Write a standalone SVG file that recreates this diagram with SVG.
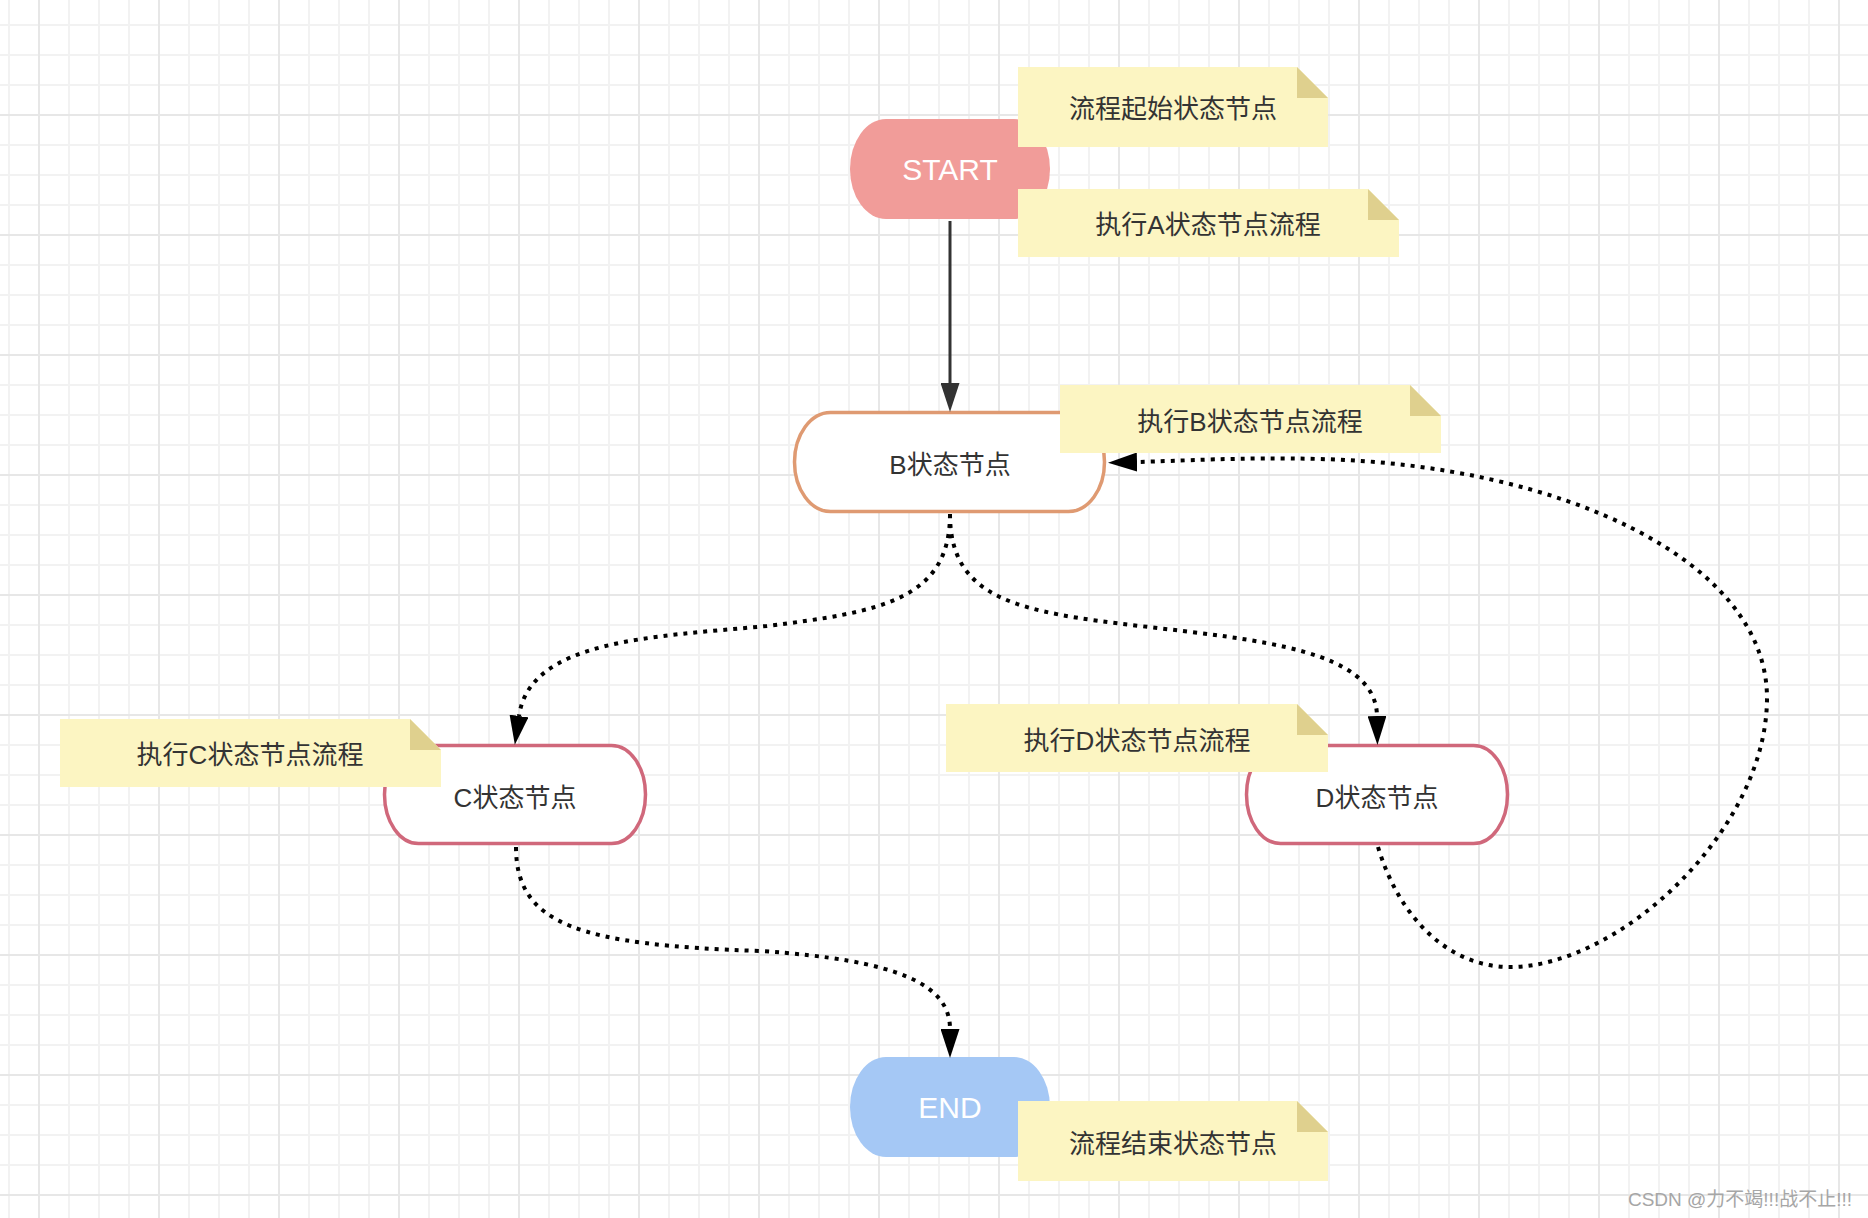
<svg xmlns="http://www.w3.org/2000/svg" width="1868" height="1218" viewBox="0 0 1868 1218">
  <defs>
    <pattern id="grid" patternUnits="userSpaceOnUse" x="24" y="100" width="120" height="120">
      <g stroke="#f2f2f2" stroke-width="2">
        <line x1="45" y1="0" x2="45" y2="120"/>
        <line x1="75" y1="0" x2="75" y2="120"/>
        <line x1="105" y1="0" x2="105" y2="120"/>
        <line x1="0" y1="45" x2="120" y2="45"/>
        <line x1="0" y1="75" x2="120" y2="75"/>
        <line x1="0" y1="105" x2="120" y2="105"/>
      </g>
      <g stroke="#e7e7e7" stroke-width="2">
        <line x1="15" y1="0" x2="15" y2="120"/>
        <line x1="0" y1="15" x2="120" y2="15"/>
      </g>
    </pattern>
    <marker id="arrBlack" markerUnits="userSpaceOnUse" viewBox="0 0 29 19" markerWidth="29" markerHeight="19" refX="0" refY="9.5" orient="auto">
      <path d="M0,0 L29,9.5 L0,19 Z" fill="#000"/>
    </marker>
    <marker id="arrDark" markerUnits="userSpaceOnUse" viewBox="0 0 29 19" markerWidth="29" markerHeight="19" refX="0" refY="9.5" orient="auto">
      <path d="M0,0 L29,9.5 L0,19 Z" fill="#333"/>
    </marker>
  </defs>
  <style>
    .txt { font-family: 'Liberation Sans', 'Noto Sans CJK SC', sans-serif; fill: #333; text-anchor: middle; }
    .term { font-family: 'Liberation Sans', 'Noto Sans CJK SC', sans-serif; fill: #fff; text-anchor: middle; font-size: 30px; }
    .ntxt { font-size: 26px; }
    .note { fill: #FCF5C2; }
    .fold { fill: #DFD08E; }
    .state { fill: #fff; stroke-width: 3.5; }
    .dot { fill: none; stroke: #000; stroke-width: 4; stroke-dasharray: 4 6; stroke-linecap: butt; marker-end: url(#arrBlack); }
  </style>

  <rect width="1868" height="1218" fill="#fff"/>
  <rect width="1868" height="1218" fill="url(#grid)"/>

  <g id="start">
    <rect x="850" y="119" width="200" height="100" rx="36" ry="50" fill="#F19C99"/>
    <text class="term" x="950" y="180">START</text>
  </g>
  <g id="nodeB">
    <rect class="state" x="794.5" y="412.5" width="310" height="99" rx="36" ry="49.5" stroke="#DF9A72"/>
    <text class="txt ntxt" x="950" y="474">B状态节点</text>
  </g>
  <g id="nodeC">
    <rect class="state" x="384.5" y="745.5" width="261" height="98" rx="34" ry="49" stroke="#D0687B"/>
    <text class="txt ntxt" x="515" y="807">C状态节点</text>
  </g>
  <g id="nodeD">
    <rect class="state" x="1246.5" y="745.5" width="261" height="98" rx="34" ry="49" stroke="#D0687B"/>
    <text class="txt ntxt" x="1377" y="807">D状态节点</text>
  </g>
  <g id="end">
    <rect x="850" y="1057" width="200" height="100" rx="36" ry="50" fill="#A5C8F5"/>
    <text class="term" x="950" y="1118">END</text>
  </g>

  <g id="connectors">
    <path d="M950,221 L950,383" fill="none" stroke="#333" stroke-width="3" marker-end="url(#arrDark)"/>
    <path class="dot" d="M950,514 C950,600 880,612 767,626 C650,637 530,640 519,716"/>
    <path class="dot" d="M950,514 C950,600 1020,612 1140,626 C1260,640 1376,650 1377,716"/>
    <path class="dot" d="M516,847 C516,925 580,945 760,951 C900,960 950,985 950,1029"/>
    <path class="dot" d="M1378,847 C1400,920 1450,967 1510,967 C1620,967 1767,830 1767,698 C1767,560 1560,465 1320,459 C1240,457 1180,461 1137,462"/>
  </g>

  <g id="note-start">
    <polygon class="note" points="1018,67 1297,67 1328,98 1328,147 1018,147"/>
    <polygon class="fold" points="1297,67 1297,98 1328,98"/>
    <text class="txt ntxt" x="1173" y="118">流程起始状态节点</text>
  </g>
  <g id="note-a">
    <polygon class="note" points="1018,189 1368,189 1399,220 1399,257 1018,257"/>
    <polygon class="fold" points="1368,189 1368,220 1399,220"/>
    <text class="txt ntxt" x="1208" y="234">执行A状态节点流程</text>
  </g>
  <g id="note-b">
    <polygon class="note" points="1060,385 1410,385 1441,416 1441,453 1060,453"/>
    <polygon class="fold" points="1410,385 1410,416 1441,416"/>
    <text class="txt ntxt" x="1250" y="431">执行B状态节点流程</text>
  </g>
  <g id="note-c">
    <polygon class="note" points="60,719 410,719 441,750 441,787 60,787"/>
    <polygon class="fold" points="410,719 410,750 441,750"/>
    <text class="txt ntxt" x="250" y="764">执行C状态节点流程</text>
  </g>
  <g id="note-d">
    <polygon class="note" points="946,704 1297,704 1328,735 1328,772 946,772"/>
    <polygon class="fold" points="1297,704 1297,735 1328,735"/>
    <text class="txt ntxt" x="1137" y="750">执行D状态节点流程</text>
  </g>
  <g id="note-end">
    <polygon class="note" points="1018,1101 1297,1101 1328,1132 1328,1181 1018,1181"/>
    <polygon class="fold" points="1297,1101 1297,1132 1328,1132"/>
    <text class="txt ntxt" x="1173" y="1153">流程结束状态节点</text>
  </g>

  <text x="1852" y="1206" font-family="'Liberation Sans', 'Noto Sans CJK SC', sans-serif" font-size="19" fill="#a6a6a6" text-anchor="end">CSDN @力不竭!!!战不止!!!</text>
</svg>
